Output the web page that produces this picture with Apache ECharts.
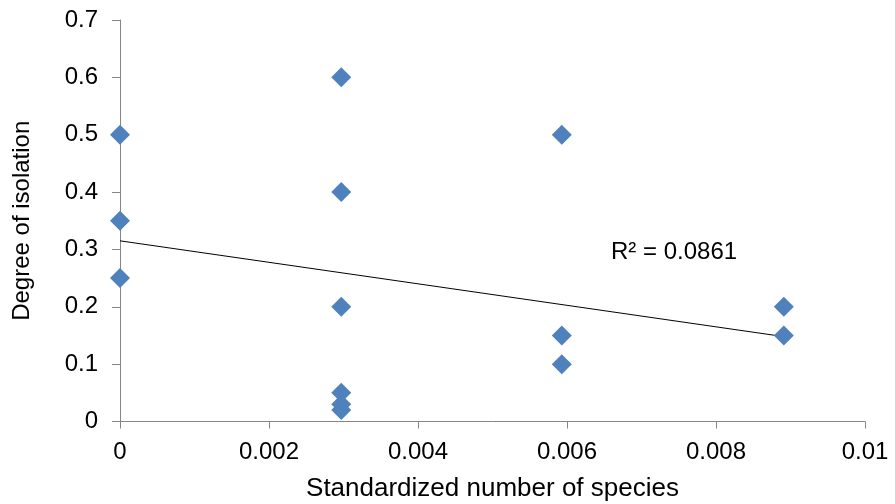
<!DOCTYPE html>
<html><head><meta charset="utf-8">
<script src="https://cdn.jsdelivr.net/npm/echarts@6/dist/echarts.min.js"></script>
<style>html,body{margin:0;padding:0;background:#fff}#c{width:895px;height:504px}</style>
</head><body><div id="c"></div>
<script>
var xValues = [0, 0, 0, 0.00297, 0.00297, 0.00297, 0.00297, 0.00297, 0.00297, 0.00593, 0.00593, 0.00593, 0.00891, 0.00891];
var yValues = [0.5, 0.35, 0.25, 0.6, 0.4, 0.2, 0.05, 0.03, 0.02, 0.5, 0.15, 0.1, 0.2, 0.15];
var trendX = [0, 0.00891];
var trendY = [0.315, 0.148];
var r2Label = 'R\u00B2 = 0.0861';
var xTicks = ['0', '0.002', '0.004', '0.006', '0.008', '0.01'];

var pts = xValues.map(function (x, i) { return [x, yValues[i]]; });
var trend = trendX.map(function (x, i) { return [x, trendY[i]]; });
var font = 'Liberation Sans, Arial, sans-serif';
var chart = echarts.init(document.getElementById('c'));
chart.setOption({
  animation: false,
  grid: { left: 120, right: 30, top: 20, bottom: 82.5, containLabel: false, outerBoundsMode: 'none' },
  xAxis: {
    type: 'value', min: 0, max: 0.01, interval: 0.002,
    name: 'Standardized number of species', nameLocation: 'middle', nameGap: 54,
    nameTextStyle: { fontFamily: font, fontSize: 26, color: '#000' },
    axisLine: { show: true, lineStyle: { color: '#868686', width: 1 } },
    axisTick: { show: true, length: 7, lineStyle: { color: '#868686' } },
    splitLine: { show: false },
    axisLabel: { fontFamily: font, fontSize: 24, color: '#000', margin: 19,
      formatter: function (v) { return xTicks[Math.round(v / 0.002)]; } }
  },
  yAxis: {
    type: 'value', min: 0, max: 0.7, interval: 0.1,
    name: 'Degree of isolation', nameLocation: 'middle', nameGap: 86,
    nameTextStyle: { fontFamily: font, fontSize: 24, color: '#000' },
    axisLine: { show: true, lineStyle: { color: '#868686', width: 1 } },
    axisTick: { show: true, length: 8, lineStyle: { color: '#868686' } },
    splitLine: { show: false },
    axisLabel: { fontFamily: font, fontSize: 24, color: '#000', margin: 22 }
  },
  series: [
    { type: 'line', data: trend, symbol: 'none', lineStyle: { color: '#000', width: 1 }, z: 1 },
    { type: 'scatter', data: pts, symbol: 'diamond', symbolSize: 20,
      itemStyle: { color: '#4F81BD', opacity: 1 }, z: 2 }
  ],
  graphic: [{ type: 'text', left: 611, top: 240,
    style: { text: r2Label, fontFamily: font, fontSize: 24, fill: '#000' } }]
});
</script></body></html>
